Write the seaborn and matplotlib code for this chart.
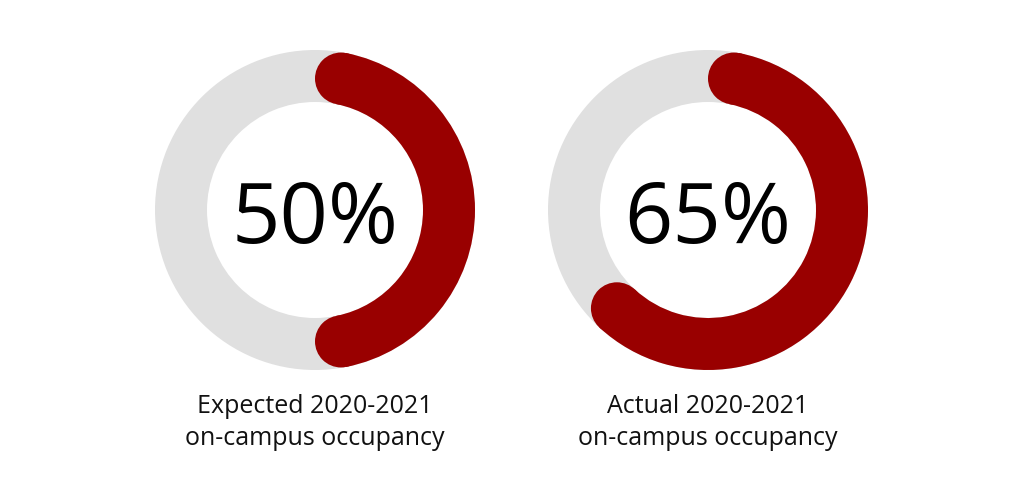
import numpy as np
import matplotlib.pyplot as plt
import seaborn as sns
from matplotlib.patches import Wedge, Circle

sns.set_theme(style="white")
plt.rcParams["font.family"] = ["Open Sans", "DejaVu Sans"]

# ========== data ==========
percent_values = [50, 65]
line1_labels = ["Expected 2020-2021", "Actual 2020-2021"]
line2_labels = ["on-campus occupancy", "on-campus occupancy"]

RED = "#990000"
GRAY = "#e0e0e0"

centers_x = [315, 708]
center_y = 210
r_out = 160
width = 52
r_mid = r_out - width / 2

fig = plt.figure(figsize=(10.24, 5.0), dpi=100)
ax = fig.add_axes([0, 0, 1, 1])
ax.set_xlim(0, 1024)
ax.set_ylim(500, 0)
ax.set_aspect("equal")
ax.axis("off")

# cap offset in degrees so the round end starts exactly at the value angle
cap_deg = np.degrees(np.arcsin((width / 2) / r_mid))

for cx, val, l1, l2 in zip(centers_x, percent_values, line1_labels, line2_labels):
    # background ring
    ax.add_patch(Wedge((cx, center_y), r_out, 0, 360, width=width, color=GRAY, lw=0))

    # clockwise from top; y axis inverted, so screen angle = -90 + clockwise deg
    start_cw = cap_deg
    end_cw = val / 100 * 360 - cap_deg
    t1 = -90 + start_cw
    t2 = -90 + end_cw
    ax.add_patch(Wedge((cx, center_y), r_out, t1, t2, width=width, color=RED, lw=0))
    for t in (t1, t2):
        px = cx + r_mid * np.cos(np.radians(t))
        py = center_y + r_mid * np.sin(np.radians(t))
        ax.add_patch(Circle((px, py), width / 2, color=RED, lw=0))

    ax.text(cx, 243, f"{val}%", ha="center", va="baseline", fontsize=61,
            color="black")
    ax.text(cx, 413, l1, ha="center", va="baseline", fontsize=18, color="#111111")
    ax.text(cx, 445, l2, ha="center", va="baseline", fontsize=18, color="#111111")

fig.savefig("out.png", dpi=100, facecolor="white")
